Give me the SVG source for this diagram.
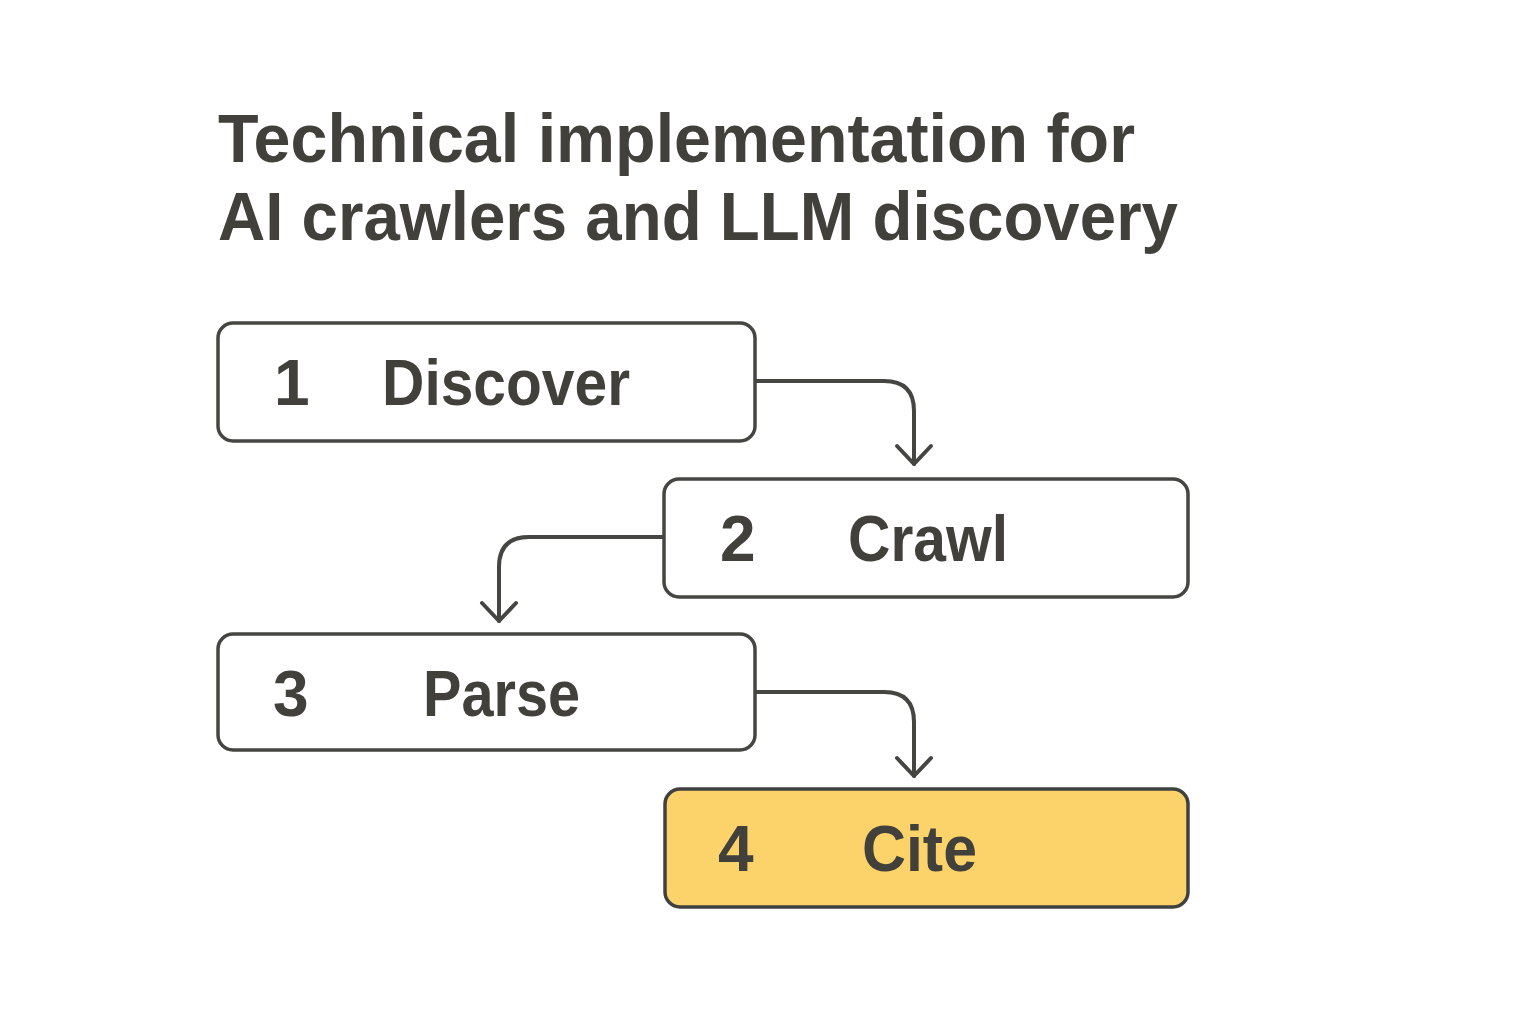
<svg xmlns="http://www.w3.org/2000/svg" width="1536" height="1024" viewBox="0 0 1536 1024">
<defs>
<style>
.title{font-family:"Liberation Sans",Arial,sans-serif;font-weight:bold;font-size:68px;fill:#41403b}
.box{fill:#ffffff;stroke:#454542;stroke-width:3.5}
.hl{fill:#fcd36a;stroke:#3f4141;stroke-width:3.5}
.lbl{font-family:"Liberation Sans",Arial,sans-serif;font-weight:bold;font-size:64px;fill:#41403b}
.conn{fill:none;stroke:#454542;stroke-width:4;stroke-linecap:round;stroke-linejoin:round}
</style>
</defs>
<rect width="1536" height="1024" fill="#ffffff"/>
<g id="title">
<text class="title" x="218" y="162" textLength="917" lengthAdjust="spacingAndGlyphs">Technical implementation for</text>
<text class="title" x="218" y="240" textLength="960" lengthAdjust="spacingAndGlyphs">AI crawlers and LLM discovery</text>
</g>
<g id="connectors">
<path class="conn" d="M755 381 H884 Q914 381 914 411 V464"/>
<path class="conn" d="M897 446 L914 464 L931 446"/>
<path class="conn" d="M664 537 H529 Q499 537 499 567 V621"/>
<path class="conn" d="M482 603 L499 621 L516 603"/>
<path class="conn" d="M755 692 H884 Q914 692 914 722 V776"/>
<path class="conn" d="M897 758 L914 776 L931 758"/>
</g>
<g id="node1">
<rect class="box" x="218" y="323" width="537" height="118" rx="15"/>
<text class="lbl" x="274" y="405">1</text>
<text class="lbl" x="382" y="405" textLength="248" lengthAdjust="spacingAndGlyphs">Discover</text>
</g>
<g id="node2">
<rect class="box" x="664" y="479" width="524" height="118" rx="15"/>
<text class="lbl" x="720" y="561">2</text>
<text class="lbl" x="848" y="561" textLength="160" lengthAdjust="spacingAndGlyphs">Crawl</text>
</g>
<g id="node3">
<rect class="box" x="218" y="634" width="537" height="116" rx="15"/>
<text class="lbl" x="273" y="716">3</text>
<text class="lbl" x="423" y="716" textLength="157" lengthAdjust="spacingAndGlyphs">Parse</text>
</g>
<g id="node4">
<rect class="hl" x="665" y="789" width="523" height="118" rx="15"/>
<text class="lbl" x="718" y="871">4</text>
<text class="lbl" x="862" y="871" textLength="115" lengthAdjust="spacingAndGlyphs">Cite</text>
</g>
</svg>
